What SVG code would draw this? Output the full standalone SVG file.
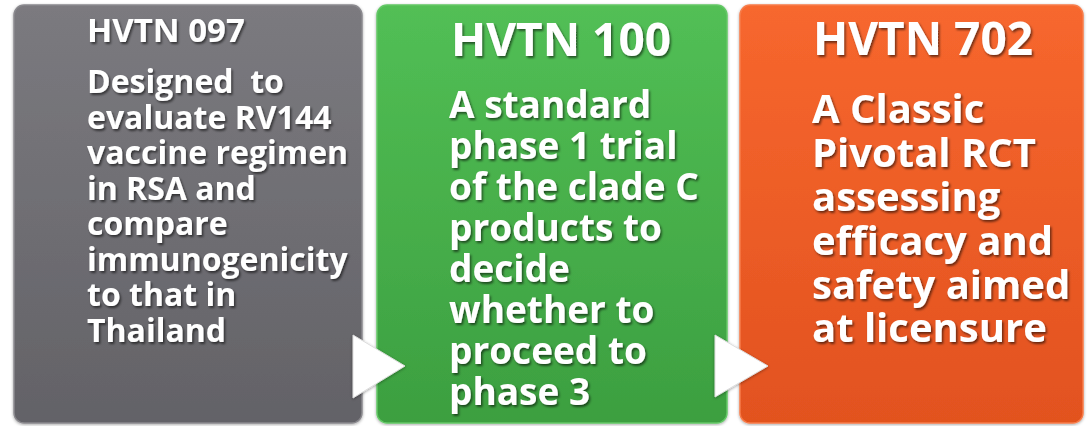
<svg xmlns="http://www.w3.org/2000/svg" width="1087" height="426" viewBox="0 0 1087 426">
<defs>
<linearGradient id="gGray" x1="0" y1="0" x2="0" y2="1"><stop offset="0" stop-color="#7b7a7f"/><stop offset="1" stop-color="#636267"/></linearGradient>
<linearGradient id="gGreen" x1="0" y1="0" x2="0" y2="1"><stop offset="0" stop-color="#52bf55"/><stop offset="1" stop-color="#3c9f40"/></linearGradient>
<linearGradient id="gOrange" x1="0" y1="0" x2="0" y2="1"><stop offset="0" stop-color="#f7672e"/><stop offset="1" stop-color="#e2521f"/></linearGradient>
<filter id="ts" x="-10%" y="-10%" width="120%" height="130%"><feDropShadow dx="1.5" dy="2" stdDeviation="1.2" flood-color="#000" flood-opacity="0.55"/></filter>
<filter id="bs" x="-10%" y="-10%" width="120%" height="120%"><feDropShadow dx="0" dy="1" stdDeviation="1.5" flood-color="#000" flood-opacity="0.35"/></filter>
</defs>
<style>
.t{font-family:"Open Sans","Noto Sans","DejaVu Sans",sans-serif;font-weight:700;fill:#ffffff;filter:url(#ts)}
.box{stroke-width:1.5;filter:url(#bs)}
.arrow{fill:#ffffff;stroke:#dddddd;stroke-width:1;filter:url(#bs)}
</style>
<rect width="1087" height="426" fill="#ffffff"/>
<g id="node-hvtn097">
<rect class="box" x="14" y="5" width="348" height="418" rx="10" fill="url(#gGray)" stroke="#8a898e"/>
<text class="t" x="87" y="42" font-size="33">HVTN 097</text>
<text class="t" font-size="32">
<tspan x="87" y="93" xml:space="preserve">Designed  to</tspan>
<tspan x="87" y="128.5">evaluate RV144</tspan>
<tspan x="87" y="164">vaccine regimen</tspan>
<tspan x="87" y="199.5">in RSA and</tspan>
<tspan x="87" y="235">compare</tspan>
<tspan x="87" y="270.5">immunogenicity</tspan>
<tspan x="87" y="306">to that in</tspan>
<tspan x="87" y="341.5">Thailand</tspan>
</text>
</g>
<g id="node-hvtn100">
<rect class="box" x="377" y="5" width="350" height="418" rx="10" fill="url(#gGreen)" stroke="#64c866"/>
<text class="t" x="451" y="56" font-size="46">HVTN 100</text>
<text class="t" font-size="37">
<tspan x="449" y="118">A standard</tspan>
<tspan x="449" y="159">phase 1 trial</tspan>
<tspan x="449" y="200">of the clade C</tspan>
<tspan x="449" y="241">products to</tspan>
<tspan x="449" y="282">decide</tspan>
<tspan x="449" y="323">whether to</tspan>
<tspan x="449" y="364">proceed to</tspan>
<tspan x="449" y="405">phase 3</tspan>
</text>
</g>
<g id="node-hvtn702">
<rect class="box" x="740" y="5" width="343" height="418" rx="10" fill="url(#gOrange)" stroke="#f77c4a"/>
<text class="t" x="813" y="55" font-size="46">HVTN 702</text>
<text class="t" font-size="40">
<tspan x="812" y="123">A Classic</tspan>
<tspan x="812" y="167">Pivotal RCT</tspan>
<tspan x="812" y="211">assessing</tspan>
<tspan x="812" y="255">efficacy and</tspan>
<tspan x="812" y="299">safety aimed</tspan>
<tspan x="812" y="342">at licensure</tspan>
</text>
</g>
<g id="connectors">
<polygon class="arrow" points="353,335 353,398 405,366"/>
<polygon class="arrow" points="715,335 715,397 768,366"/>
</g>
</svg>
